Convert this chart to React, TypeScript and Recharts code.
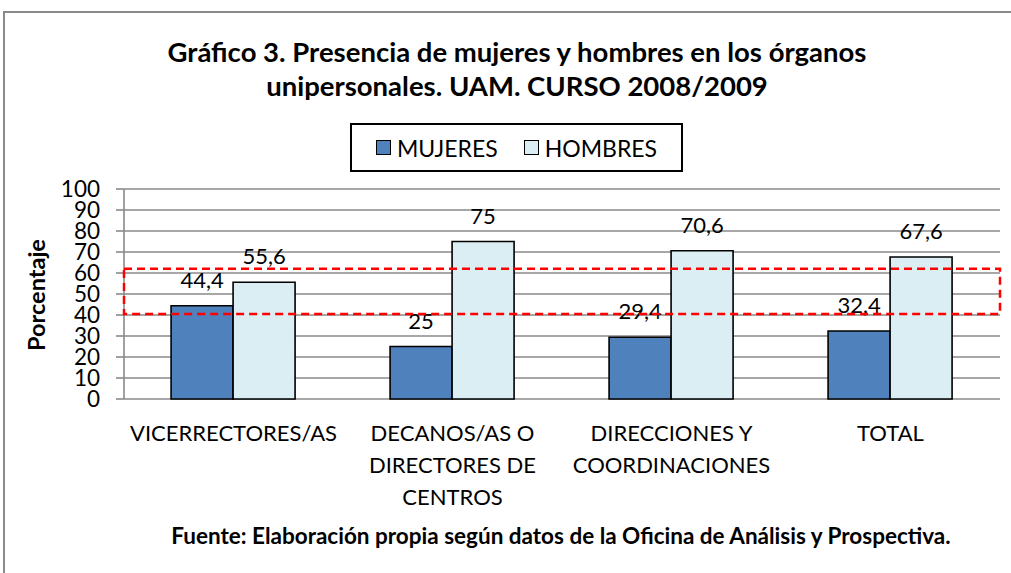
import React from "react";
import { Bar, BarChart, CartesianGrid, LabelList, ReferenceArea, XAxis, YAxis } from "recharts";

const CATEGORY_LINES: string[][] = [
  ["VICERRECTORES/AS"],
  ["DECANOS/AS O", "DIRECTORES DE", "CENTROS"],
  ["DIRECCIONES Y", "COORDINACIONES"],
  ["TOTAL"],
];
const MUJERES = [44.4, 25, 29.4, 32.4];
const HOMBRES = [55.6, 75, 70.6, 67.6];
const Y_TICKS = [0, 10, 20, 30, 40, 50, 60, 70, 80, 90, 100];
const EDGE_TICKS = [0, 1, 2, 3, 4];
const HIGHLIGHT_RANGE = [40.5, 62];

const SERIES = [
  { key: "mujeres", name: "MUJERES", color: "#4F81BD" },
  { key: "hombres", name: "HOMBRES", color: "#DBEEF4" },
];

const TITLE_LINES = [
  "Gráfico 3. Presencia de mujeres y hombres en los órganos",
  "unipersonales. UAM. CURSO 2008/2009",
];
const SOURCE = "Fuente: Elaboración propia según datos de la Oficina de Análisis y Prospectiva.";
const Y_LABEL = "Porcentaje";

const FONT = "Lato, 'Open Sans', sans-serif";
const GRID = "#8a8a8a";

const data = CATEGORY_LINES.map((lines, i) => ({
  cat: lines.join(" "),
  mujeres: MUJERES[i],
  hombres: HOMBRES[i],
}));

const fmt = (v: any) => String(v).replace(".", ",");

function CategoryTick(props: any) {
  const { x, y, payload } = props;
  const lines = CATEGORY_LINES[payload.index] ?? [String(payload.value)];
  return (
    <text x={x} y={y} textAnchor="middle" fontSize={22} fontFamily={FONT} fill="#000">
      {lines.map((l, i) => (
        <tspan key={i} x={x} dy={i === 0 ? 42 : 32}>
          {l}
        </tspan>
      ))}
    </text>
  );
}

export default function App() {
  return (
    <div style={{ position: "fixed", left: 0, top: 0, width: 1011, height: 573, background: "#fff", overflow: "hidden", fontFamily: FONT }}>
      <div style={{ position: "absolute", left: 3, top: 11, width: 1100, height: 700, border: `2px solid ${GRID}` }} />

      <div style={{ position: "absolute", left: 0, top: 0 }}>
        <BarChart
          width={1011}
          height={573}
          data={data}
          margin={{ top: 189, right: 11, bottom: 54, left: 64 }}
          barCategoryGap="21.5%"
          barGap={0}
        >
          <CartesianGrid vertical={false} stroke={GRID} strokeWidth={1.6} />
          <XAxis
            xAxisId="edges"
            type="number"
            domain={[0, 4]}
            allowDataOverflow
            ticks={EDGE_TICKS}
            height={0}
            tickSize={8}
            tick={() => <g />}
            axisLine={{ stroke: GRID, strokeWidth: 1.6 }}
            tickLine={{ stroke: GRID, strokeWidth: 1.6 }}
          />
          <XAxis
            dataKey="cat"
            height={120}
            axisLine={false}
            tickLine={false}
            tickSize={0}
            tickMargin={0}
            interval={0}
            tick={<CategoryTick />}
          />
          <YAxis
            domain={[0, 100]}
            ticks={Y_TICKS}
            interval={0}
            width={60}
            tickSize={8}
            tickMargin={16}
            axisLine={{ stroke: GRID, strokeWidth: 1.6 }}
            tickLine={{ stroke: GRID, strokeWidth: 1.6 }}
            tick={{ fontSize: 22.5, fill: "#000", fontFamily: FONT }}
          />
          {SERIES.map((s) => (
            <Bar key={s.key} dataKey={s.key} name={s.name} fill={s.color} stroke="#000" strokeWidth={1.6} isAnimationActive={false}>
              <LabelList dataKey={s.key} position="top" offset={18} fontSize={22} fill="#000" fontFamily={FONT} formatter={fmt} />
            </Bar>
          ))}
          <ReferenceArea
            y1={HIGHLIGHT_RANGE[0]}
            y2={HIGHLIGHT_RANGE[1]}
            fill="none"
            fillOpacity={0}
            stroke="#FF0000"
            strokeWidth={2.5}
            strokeDasharray="8 5"
            ifOverflow="visible"
            {...({ zIndex: 2500 } as any)}
          />
        </BarChart>
      </div>

      {/* title, axis label and source */}
      <svg width={1011} height={573} style={{ position: "absolute", left: 0, top: 0, pointerEvents: "none" }}>
        {TITLE_LINES.map((t, i) => (
          <text key={i} x={517} y={62 + i * 34} textAnchor="middle" fontSize={27.5} fontWeight="bold" fontFamily={FONT} fill="#000">
            {t}
          </text>
        ))}
        <text x={45} y={295} transform="rotate(-90 45 295)" textAnchor="middle" fontSize={23.5} fontWeight="bold" fontFamily={FONT} fill="#000">
          {Y_LABEL}
        </text>
        <text x={561} y={544} textAnchor="middle" fontSize={22.5} fontWeight="bold" fontFamily={FONT} fill="#000">
          {SOURCE}
        </text>
      </svg>

      {/* legend */}
      <div
        style={{
          position: "absolute",
          left: 350,
          top: 123,
          width: 333,
          height: 49,
          boxSizing: "border-box",
          border: "2px solid #000",
          display: "flex",
          alignItems: "center",
          justifyContent: "center",
          gap: 26,
          fontSize: 23,
        }}
      >
        {SERIES.map((s) => (
          <div key={s.key} style={{ display: "flex", alignItems: "center", gap: 6 }}>
            <span style={{ width: 15, height: 15, boxSizing: "border-box", background: s.color, border: "1.5px solid #000", display: "inline-block" }} />
            <span>{s.name}</span>
          </div>
        ))}
      </div>
    </div>
  );
}
